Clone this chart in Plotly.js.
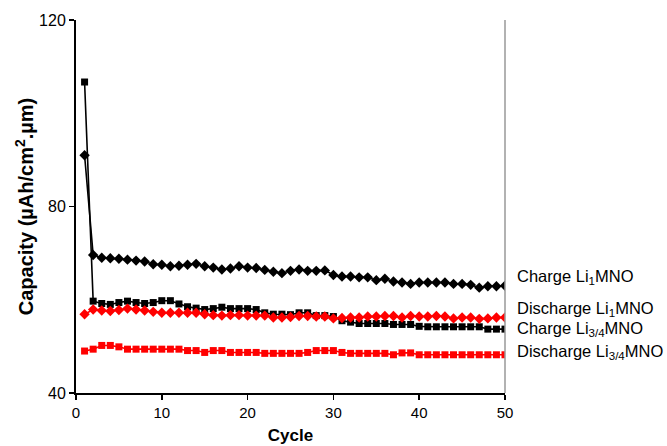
<!DOCTYPE html>
<html>
<head>
<meta charset="utf-8">
<script src="https://cdn.plot.ly/plotly-3.0.1.min.js"></script>
<style>
  html, body { margin: 0; padding: 0; background: #fff; }
  #chart { width: 667px; height: 446px; }
</style>
</head>
<body>
<div id="chart"></div>
<script>
// Cycle numbers 1..50
const cycles = [1,2,3,4,5,6,7,8,9,10,11,12,13,14,15,16,17,18,19,20,21,22,23,24,25,
                26,27,28,29,30,31,32,33,34,35,36,37,38,39,40,41,42,43,44,45,46,47,48,49,50];

// Capacity (µAh/cm².µm) per cycle
const chargeLi1 = [91.0,69.6,69.0,68.9,68.8,68.6,68.4,68.2,67.6,67.5,67.2,67.3,67.5,67.7,67.2,66.9,66.5,66.7,67.2,66.9,
                   66.8,66.4,66.0,65.7,66.2,66.5,66.2,66.2,66.3,65.3,65.0,65.0,64.8,64.8,64.2,64.5,63.9,63.7,63.4,63.7,
                   63.7,63.7,63.7,63.4,63.4,63.2,62.6,62.9,62.9,63.0];
const dischargeLi1 = [56.9,57.9,57.7,57.6,57.8,58.1,57.9,57.7,57.4,57.2,57.2,57.2,57.2,57.2,56.9,56.7,56.6,56.7,56.7,56.6,
                      56.6,56.6,56.2,56.2,56.3,56.5,56.5,56.4,56.4,56.0,56.1,56.2,56.2,56.4,56.4,56.5,56.5,56.2,56.5,56.4,
                      56.4,56.5,56.4,56.0,56.2,56.2,55.9,56.0,56.2,56.2];
const chargeLi34 = [106.7,59.7,59.2,59.0,59.4,59.7,59.4,59.2,59.4,59.8,59.8,59.1,58.5,58.2,57.9,58.1,58.4,58.1,58.1,58.1,
                    57.9,57.2,56.9,56.9,56.8,57.2,57.2,56.6,56.6,56.4,55.5,55.2,54.9,54.9,54.9,54.9,54.7,54.7,54.7,54.3,
                    54.2,54.2,54.2,54.2,54.2,54.2,54.2,53.7,53.7,53.7];
const dischargeLi34 = [49.0,49.4,50.2,50.2,49.9,49.4,49.4,49.4,49.4,49.4,49.4,49.4,49.1,49.1,48.7,49.1,49.1,48.7,48.7,48.7,
                       48.7,48.5,48.5,48.5,48.5,48.5,48.7,49.1,49.1,49.1,48.7,48.5,48.5,48.5,48.5,48.5,48.2,48.6,48.6,48.2,
                       48.2,48.2,48.2,48.2,48.2,48.2,48.2,48.2,48.2,48.2];

// Series labels shown at the right end of the plot
const labels = ['Charge Li<sub>1</sub>MNO', 'Discharge Li<sub>1</sub>MNO',
                'Charge Li<sub>3/4</sub>MNO', 'Discharge Li<sub>3/4</sub>MNO'];
const labelY = [64.8, 58.1, 53.7, 48.9];

const xTicks = [0,10,20,30,40,50];
const yTicks = [40,80,120];

function series(y, color, symbol, size) {
  return {
    x: cycles, y: y, type: 'scatter', mode: 'lines+markers',
    line: {color: color, width: 1.6},
    marker: {color: color, symbol: symbol, size: size, line: {width: 0}},
    hoverinfo: 'skip', showlegend: false
  };
}

const data = [
  series(chargeLi1, '#000000', 'diamond', 8),
  series(chargeLi34, '#000000', 'square', 7),
  series(dischargeLi34, '#ff0000', 'square', 7),
  series(dischargeLi1, '#ff0000', 'diamond', 8)
];

const font = {family: "Arial, 'Liberation Sans', sans-serif", color: '#000'};

const layout = {
  width: 667, height: 446,
  margin: {l: 76, r: 162, t: 20, b: 53},
  paper_bgcolor: '#fff', plot_bgcolor: '#fff',
  font: Object.assign({size: 16}, font),
  xaxis: {
    range: [0, 50], tickvals: xTicks, ticktext: xTicks.map(String),
    showgrid: false, zeroline: false,
    showline: true, linecolor: '#000', linewidth: 2,
    ticks: 'outside', ticklen: 5, tickwidth: 1.5, tickcolor: '#000',
    tickfont: Object.assign({size: 15}, font),
    title: {text: '<b>Cycle</b>', font: Object.assign({size: 17}, font), standoff: 9}
  },
  yaxis: {
    range: [40, 120], tickvals: yTicks, ticktext: yTicks.map(String),
    showgrid: false, zeroline: false,
    showline: true, linecolor: '#000', linewidth: 2,
    ticks: 'outside', ticklen: 5, tickwidth: 1.5, tickcolor: '#000',
    tickfont: Object.assign({size: 16}, font),
    title: {text: '<b>Capacity (µAh/cm<sup>2</sup>.µm)</b>', font: Object.assign({size: 20}, font), standoff: 0}
  },
  shapes: [{
    type: 'line', xref: 'paper', yref: 'paper', x0: 1, x1: 1, y0: 0, y1: 1,
    line: {color: '#999', width: 1.5}
  }],
  annotations: labels.map((t, i) => ({
    text: t, xref: 'paper', yref: 'y', x: 1.024, y: labelY[i],
    xanchor: 'left', yanchor: 'middle', showarrow: false,
    font: Object.assign({size: 16.5}, font)
  }))
};

Plotly.newPlot('chart', data, layout, {displayModeBar: false, staticPlot: true});
</script>
</body>
</html>
